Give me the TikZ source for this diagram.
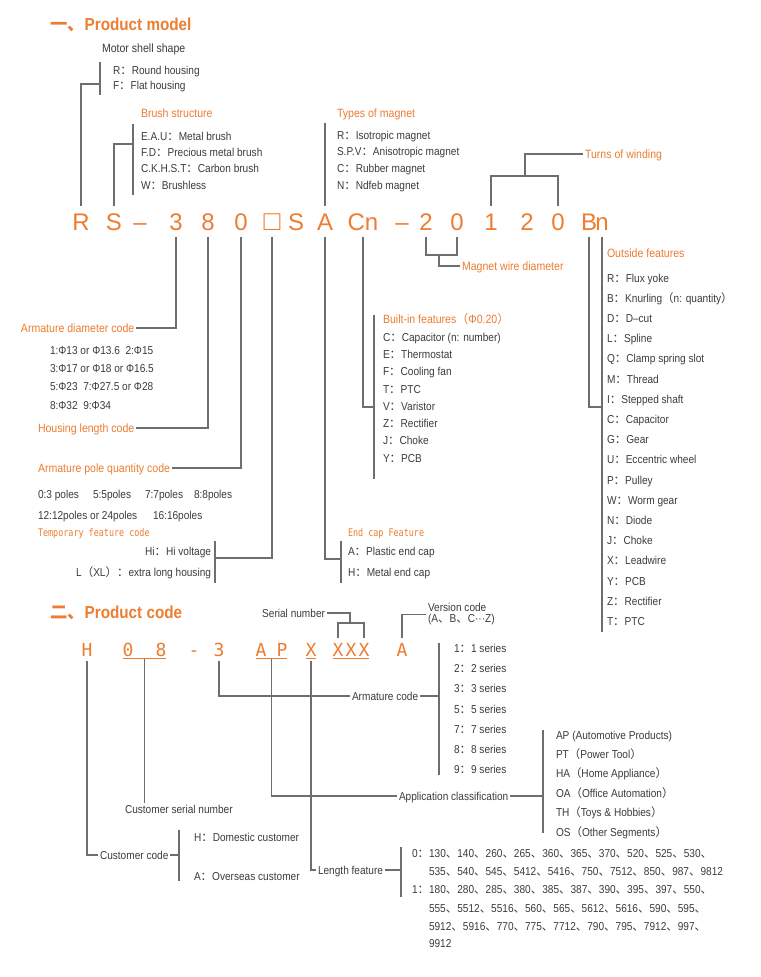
\documentclass[tikz,border=0pt]{standalone}
\usepackage{fontspec}
\setmainfont{Liberation Sans}[FakeStretch=0.88]
\newfontfamily\codefont{Liberation Sans}
\newfontfamily\monofont{DejaVu Sans Mono}[FakeStretch=0.8]
\newfontfamily\pcfont{DejaVu Sans Mono}
\newfontfamily\cjk{Noto Sans CJK SC}
\usetikzlibrary{calc}
\definecolor{morange}{RGB}{237,125,49}
\definecolor{mtext}{RGB}{60,60,60}
\definecolor{mline}{RGB}{110,110,110}
\newcommand\fwc{{\cjk ：}}
\newcommand\fwd{{\cjk 、}}

\begin{document}
\begin{tikzpicture}[x=0.75pt, y=-0.75pt,
  every node/.style={inner sep=0pt, outer sep=1.5pt, text=mtext, font=\fontsize{8.6}{10}\selectfont},
  lbl/.style={anchor=west},
  txt/.style={lbl, text height=6.2pt, text depth=0pt},
  hd/.style={txt, text=morange, font=\fontsize{9}{11}\selectfont},
  mhd/.style={txt, text=morange, font=\monofont\fontsize{7.9}{10}\selectfont},
  ttl/.style={txt, text=morange, font=\bfseries\fontsize{13}{15}\selectfont, text height=9.5pt},
  cd/.style={anchor=base, text=morange, font=\codefont\fontsize{18}{18}\selectfont, text height=12.9pt, text depth=0pt, outer sep=5pt},
  pc/.style={anchor=base, text=morange, font=\pcfont\fontsize{13.5}{14}\selectfont, text height=9.8pt, text depth=0pt, outer xsep=0pt, outer ysep=4pt},
  ln/.style={draw=mline, line width=0.8pt},
  ul/.style={draw=morange, line width=0.8pt}]
\fill[white] (0,0) rectangle (760,977);

% ---------- Product model ----------
\node[ttl] (t1) at (48,24) {{\cjk 一、}Product model};

% code row
\foreach \c/\x/\n in {R/81/cR, S/114/cS, –/140/cda, 3/176/c3, 8/208/c8, 0/241/c0, S/296/cS2, A/325/cA, Cn/363/cCn, –/402/cdb, 2/426/c2, 0/457/c0b, 1/491/c1, 2/527/c2b, 0/558/c0c, B/589/cB, n/602/cn}
  \node[cd] (\n) at (\x,230) {\c};
\node[cd, font=\codefont\fontsize{21}{21}\selectfont] (cbox) at (272,230) {□};

% shell shape
\node[txt, font=\fontsize{9}{11}\selectfont] (shell) at (100,48) {Motor shell shape};
\foreach \itm [count=\i] in {R\fwc Round housing, F\fwc Flat housing}
  \node[txt] (shell\i) at (111,{70+15.5*(\i-1)}) {\itm};
\coordinate (shellT) at (100,62);
\coordinate (shellB) at (100,95);
\coordinate (shellJ) at (100,84);
\draw[ln] (shellT) -- (shellB);
\draw[ln] (cR.north) |- (shellJ);

% brush
\node[hd] (brush) at (139,113) {Brush structure};
\foreach \itm [count=\i] in {E.A.U\fwc Metal brush, F.D\fwc Precious metal brush, C.K.H.S.T\fwc Carbon brush, W\fwc Brushless}
  \node[txt] (brush\i) at (139,{136+16.3*(\i-1)}) {\itm};
\coordinate (brushT) at (133,124);
\coordinate (brushB) at (133,195);
\coordinate (brushJ) at (133,144);
\draw[ln] (brushT) -- (brushB);
\draw[ln] (cS.north) |- (brushJ);

% magnet
\node[hd] (mag) at (335,113) {Types of magnet};
\foreach \itm [count=\i] in {R\fwc Isotropic magnet, S.P.V\fwc Anisotropic magnet, C\fwc Rubber magnet, N\fwc Ndfeb magnet}
  \node[txt] (mag\i) at (335,{135+16.7*(\i-1)}) {\itm};
\coordinate (magT) at (325,123);
\draw[ln] (magT) -- (cA.north);

% winding
\node[hd] (turns) at (583,154) {Turns of winding};
\coordinate (turnJ) at (525,176);
\draw[ln] (c1.north) |- (turnJ) -| (c0c.north);
\draw[ln] (turnJ) |- (turns.west);

% armature diameter
\node[hd] (dia) at (19,328) {Armature diameter code};
\foreach \itm [count=\i] in {1:Φ13 or Φ13.6\ \ 2:Φ15, 3:Φ17 or Φ18 or Φ16.5, 5:Φ23\ \ 7:Φ27.5 or Φ28, 8:Φ32\ \ 9:Φ34}
  \node[txt] (dia\i) at (48,{350+18.3*(\i-1)}) {\itm};
\draw[ln] (c3.south) |- (dia.east);

% housing length
\node[hd] (hlen) at (36,428) {Housing length code};
\draw[ln] (c8.south) |- (hlen.east);

% poles
\node[hd] (pole) at (36,468) {Armature pole quantity code};
\draw[ln] (c0.south) |- (pole.east);
\node[txt] (pole1) at (36,494) {0:3 poles};
\node[txt] (pole2) at (91,494) {5:5poles};
\node[txt] (pole3) at (143,494) {7:7poles};
\node[txt] (pole4) at (192,494) {8:8poles};
\node[txt] (pole5) at (36,515) {12:12poles or 24poles};
\node[txt] (pole6) at (151,515) {16:16poles};

% temporary feature
\node[mhd] (tmp) at (36,532) {Temporary feature code};
\node[txt, anchor=east] (tmp1) at (213,551) {Hi\fwc Hi voltage};
\node[txt, anchor=east] (tmp2) at (213,572) {L{\cjk （}XL{\cjk ）}\fwc extra long housing};
\coordinate (tmpT) at (215,541);
\coordinate (tmpB) at (215,583);
\coordinate (tmpJ) at (215,558);
\draw[ln] (tmpT) -- (tmpB);
\draw[ln] (cbox.south) |- (tmpJ);

% end cap
\node[mhd] (cap) at (346,532) {End cap Feature};
\node[txt] (cap1) at (346,551) {A\fwc Plastic end cap};
\node[txt] (cap2) at (346,572) {H\fwc Metal end cap};
\coordinate (capT) at (341,541);
\coordinate (capB) at (341,583);
\coordinate (capJ) at (341,559);
\draw[ln] (capT) -- (capB);
\draw[ln] (cA.south) |- (capJ);

% built-in
\node[hd] (blt) at (381,319) {Built-in features{\cjk （}Φ0.20{\cjk ）}};
\foreach \itm [count=\i] in {C\fwc Capacitor (n: number), E\fwc Thermostat, F\fwc Cooling fan, T\fwc PTC, V\fwc Varistor, Z\fwc Rectifier, J\fwc Choke, Y\fwc PCB}
  \node[txt] (blt\i) at (381,{337+17.3*(\i-1)}) {\itm};
\coordinate (bltT) at (374,315);
\coordinate (bltB) at (374,479);
\coordinate (bltJ) at (374,407);
\draw[ln] (bltT) -- (bltB);
\draw[ln] (cCn.south) |- (bltJ);

% wire
\node[hd] (wire) at (460,266) {Magnet wire diameter};
\coordinate (wireJ) at (439,255);
\draw[ln] (c2.south) |- (wireJ) -| (c0b.south);
\draw[ln] (wireJ) |- (wire.west);

% outside
\node[hd] (out) at (605,253) {Outside features};
\foreach \itm [count=\i] in {R\fwc Flux yoke, B\fwc Knurling{\cjk （}n: quantity{\cjk ）}, D\fwc D–cut, L\fwc Spline, Q\fwc Clamp spring slot, M\fwc Thread, I\fwc Stepped shaft, C\fwc Capacitor, G\fwc Gear, U\fwc Eccentric wheel, P\fwc Pulley, W\fwc Worm gear, N\fwc Diode, J\fwc Choke, X\fwc Leadwire, Y\fwc PCB, Z\fwc Rectifier, T\fwc PTC}
  \node[txt] (out\i) at (605,{278+20.2*(\i-1)}) {\itm};
\coordinate (outJ) at (602,407);
\coordinate (outB) at (602,632);
\draw[ln] (cB.south) |- (outJ);
\draw[ln] (cn.south) -- (outB);

% ---------- Product code ----------
\node[ttl] (t2) at (48,612) {{\cjk 二、}Product code};

\foreach \c/\x/\n in {H/87/pH, 0/128/p0, 8/161/p8, -/194/pda, 3/219/p3, A/261/pA, P/282/pP, X/311/pX, X/338/pXa, X/351/pXb, X/364/pXc, A/402/pV}
  \node[pc] (\n) at (\x,656) {\c};

\draw[ul] ([yshift=-2pt]p0.base west) -- ([yshift=-2pt]p8.base east);
\draw[ul] ([yshift=-2pt]pA.base west) -- ([yshift=-2pt]pP.base east);
\draw[ul] ([yshift=-2pt]pX.base west) -- ([yshift=-2pt]pX.base east);
\draw[ul] ([yshift=-2pt]pXa.base west) -- ([yshift=-2pt]pXc.base east);
\coordinate (u08) at ($([yshift=-2pt]p0.base west)!.5!([yshift=-2pt]p8.base east)$);
\coordinate (uAP) at ($([yshift=-2pt]pA.base west)!.5!([yshift=-2pt]pP.base east)$);

% serial / version
\node[txt, anchor=east] (ser) at (327,613) {Serial number};
\coordinate (serJ) at (350,623);
\draw[ln] (ser.east) -| (serJ);
\draw[ln] (pXa.north) |- (serJ) -| (pXc.north);
\node[lbl, align=left, font=\fontsize{8.6}{8.25}\selectfont] (ver) at (426,614.5) {Version code\\(A\fwd B\fwd C···Z)};
\draw[ln] (pV.north) |- (ver.west);

% customer
\node[txt] (cser) at (123,809) {Customer serial number};
\draw[ln] (u08) -- (u08 |- cser.north);
\node[txt] (cust) at (98,855) {Customer code};
\node[txt] (cust1) at (192,837) {H\fwc Domestic customer};
\node[txt] (cust2) at (192,876) {A\fwc Overseas customer};
\coordinate (custT) at (179,830);
\coordinate (custB) at (179,881);
\coordinate (custJ) at (179,855);
\draw[ln] (pH.south) |- (cust.west);
\draw[ln] (cust.east) -- (custJ);
\draw[ln] (custT) -- (custB);

% armature
\node[txt] (arm) at (350,696) {Armature code};
\foreach \itm [count=\i] in {1,2,3,5,7,8,9}
  \node[txt] (arm\i) at (452,{648+20.3*(\i-1)}) {\itm\fwc \itm\ series};
\coordinate (armT) at (439,643);
\coordinate (armB) at (439,775);
\coordinate (armJ) at (439,696);
\draw[ln] (p3.south) |- (arm.west);
\draw[ln] (arm.east) -- (armJ);
\draw[ln] (armT) -- (armB);

% application
\node[txt] (app) at (397,796) {Application classification};
\foreach \itm [count=\i] in {AP (Automotive Products), PT{\cjk （}Power Tool{\cjk ）}, HA{\cjk （}Home Appliance{\cjk ）}, OA{\cjk （}Office Automation{\cjk ）}, TH{\cjk （}Toys \& Hobbies{\cjk ）}, OS{\cjk （}Other Segments{\cjk ）}}
  \node[txt] (app\i) at (554,{735+19.4*(\i-1)}) {\itm};
\coordinate (appT) at (543,730);
\coordinate (appB) at (543,833);
\coordinate (appJ) at (543,796);
\draw[ln] (uAP) |- (app.west);
\draw[ln] (app.east) -- (appJ);
\draw[ln] (appT) -- (appB);

% length
\node[txt] (lenf) at (316,870) {Length feature};
\coordinate (lenT) at (401,847);
\coordinate (lenB) at (401,897);
\coordinate (lenJ) at (401,870);
\draw[ln] (pX.south) |- (lenf.west);
\draw[ln] (lenf.east) -- (lenJ);
\draw[ln] (lenT) -- (lenB);
\node[txt] (num1) at (410,853) {0\fwc 130\fwd 140\fwd 260\fwd 265\fwd 360\fwd 365\fwd 370\fwd 520\fwd 525\fwd 530\fwd};
\node[txt] (num2) at (427,871) {535\fwd 540\fwd 545\fwd 5412\fwd 5416\fwd 750\fwd 7512\fwd 850\fwd 987\fwd 9812};
\node[txt] (num3) at (410,889) {1\fwc 180\fwd 280\fwd 285\fwd 380\fwd 385\fwd 387\fwd 390\fwd 395\fwd 397\fwd 550\fwd};
\node[txt] (num4) at (427,908) {555\fwd 5512\fwd 5516\fwd 560\fwd 565\fwd 5612\fwd 5616\fwd 590\fwd 595\fwd};
\node[txt] (num5) at (427,926) {5912\fwd 5916\fwd 770\fwd 775\fwd 7712\fwd 790\fwd 795\fwd 7912\fwd 997\fwd};
\node[txt] (num6) at (427,943) {9912};
\end{tikzpicture}
\end{document}
